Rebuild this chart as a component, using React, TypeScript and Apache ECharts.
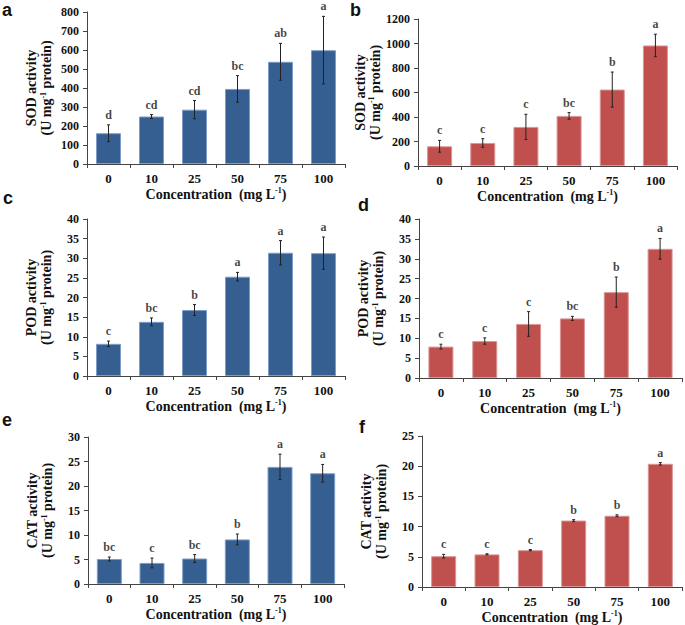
import React, { useEffect, useRef } from "react";
import * as echarts from "echarts";

const categories = ["0", "10", "25", "50", "75", "100"];

const sodA = [162, 250, 286, 395, 538, 599];
const sodAErr = [44, 10, 48, 70, 97, 178];
const sodALetters = ["d", "cd", "cd", "bc", "ab", "a"];

const sodB = [161, 188, 319, 409, 624, 984];
const sodBErr = [48, 35, 103, 27, 143, 92];
const sodBLetters = ["c", "c", "c", "bc", "b", "a"];

const podC = [8.2, 13.8, 16.8, 25.3, 31.4, 31.3];
const podCErr = [0.7, 1.0, 1.4, 1.1, 3.1, 4.1];
const podCLetters = ["c", "bc", "b", "a", "a", "a"];

const podD = [7.9, 9.3, 13.6, 15.0, 21.6, 32.5];
const podDErr = [0.6, 0.8, 3.1, 0.5, 3.8, 2.6];
const podDLetters = ["c", "c", "c", "bc", "b", "a"];

const catE = [5.1, 4.3, 5.2, 9.1, 23.9, 22.6];
const catEErr = [0.4, 1.0, 0.8, 1.1, 2.6, 1.8];
const catELetters = ["bc", "c", "bc", "b", "a", "a"];

const catF = [5.1, 5.4, 6.1, 11.0, 11.8, 20.4];
const catFErr = [0.3, 0.1, 0.1, 0.15, 0.15, 0.2];
const catFLetters = ["c", "c", "c", "b", "b", "a"];

const panelLetters = ["a", "b", "c", "d", "e", "f"];

const BLUE = "#365F91";
const BLUE_EDGE = "#7E9CC7";
const RED = "#C0504D";
const RED_EDGE = "#D99694";
const SERIF = "'Liberation Serif', 'Times New Roman', serif";
const TXT = "#111";

type Panel = {
  values: number[];
  errs: number[];
  letters: string[];
  enzyme: string;
  max: number;
  interval: number;
  color: string;
  edge: string;
  grid: { left: number; top: number; width: number; height: number };
  tag: { x: number; y: number };
};

const panels: Panel[] = [
  { values: sodA, errs: sodAErr, letters: sodALetters, enzyme: "SOD", max: 800, interval: 100, color: BLUE, edge: BLUE_EDGE,
    grid: { left: 87, top: 12, width: 258, height: 152 }, tag: { x: 2, y: 19 } },
  { values: sodB, errs: sodBErr, letters: sodBLetters, enzyme: "SOD", max: 1200, interval: 200, color: RED, edge: RED_EDGE,
    grid: { left: 418, top: 19, width: 259, height: 147 }, tag: { x: 350, y: 19 } },
  { values: podC, errs: podCErr, letters: podCLetters, enzyme: "POD", max: 40, interval: 5, color: BLUE, edge: BLUE_EDGE,
    grid: { left: 87, top: 219, width: 258, height: 157 }, tag: { x: 3, y: 207 } },
  { values: podD, errs: podDErr, letters: podDLetters, enzyme: "POD", max: 40, interval: 5, color: RED, edge: RED_EDGE,
    grid: { left: 419, top: 219, width: 263, height: 159 }, tag: { x: 358, y: 214 } },
  { values: catE, errs: catEErr, letters: catELetters, enzyme: "CAT", max: 30, interval: 5, color: BLUE, edge: BLUE_EDGE,
    grid: { left: 88, top: 437, width: 256, height: 147 }, tag: { x: 2, y: 429 } },
  { values: catF, errs: catFErr, letters: catFLetters, enzyme: "CAT", max: 25, interval: 5, color: RED, edge: RED_EDGE,
    grid: { left: 422, top: 436, width: 260, height: 151 }, tag: { x: 359, y: 436 } },
];

export default function App() {
  const ref = useRef<HTMLDivElement>(null);

  useEffect(() => {
    if (!ref.current) return;
    const chart = echarts.init(ref.current, null, { renderer: "svg" });

    const grids: any[] = [];
    const xAxes: any[] = [];
    const yAxes: any[] = [];
    const series: any[] = [];

    panels.forEach((p, k) => {
      grids.push({ ...p.grid, containLabel: false });
      xAxes.push({
        type: "category",
        gridIndex: k,
        data: categories,
        boundaryGap: true,
        axisLine: { show: true, lineStyle: { color: "#444", width: 1 } },
        axisTick: { show: true, alignWithLabel: false, length: 4, lineStyle: { color: "#444" } },
        axisLabel: { fontFamily: SERIF, fontWeight: "bold", fontSize: 13, color: TXT, margin: 8 },
        name: "{t|Concentration  (mg L}{sup|-1}{t|)}",
        nameLocation: "middle",
        nameGap: 22,
        nameTextStyle: {
          rich: {
            t: { fontFamily: SERIF, fontWeight: "bold", fontSize: 14, color: TXT, lineHeight: 16 },
            sup: { fontFamily: SERIF, fontWeight: "bold", fontSize: 8, color: TXT, verticalAlign: "top", lineHeight: 9 },
          },
        },
      });
      yAxes.push({
        type: "value",
        gridIndex: k,
        min: 0,
        max: p.max,
        interval: p.interval,
        splitLine: { show: false },
        axisLine: { show: true, lineStyle: { color: "#444", width: 1 } },
        axisTick: { show: true, length: 4, lineStyle: { color: "#444" } },
        axisLabel: {
          fontFamily: SERIF,
          fontWeight: "bold",
          fontSize: 12,
          color: TXT,
          margin: 8,
          formatter: (v: number) => String(v),
        },
        name: `{b|${p.enzyme} activity}\n{b|(U mg}{sup|-1}{b| protein)}`,
        nameLocation: "middle",
        nameRotate: 90,
        nameGap: 33,
        nameTextStyle: {
          rich: {
            b: { fontFamily: SERIF, fontWeight: "bold", fontSize: 14, color: TXT, lineHeight: 15 },
            sup: { fontFamily: SERIF, fontWeight: "bold", fontSize: 8, color: TXT, verticalAlign: "top", lineHeight: 8 },
          },
        },
      });

      series.push({
        type: "bar",
        xAxisIndex: k,
        yAxisIndex: k,
        data: p.values,
        barWidth: 25,
        itemStyle: { color: p.color, borderColor: p.edge, borderWidth: 1 },
        z: 2,
      });
      series.push({
        type: "custom",
        xAxisIndex: k,
        yAxisIndex: k,
        data: p.values.map((v, i) => [i, v, p.errs[i]]),
        encode: { x: 0, y: 1 },
        z: 3,
        renderItem: (params: any, api: any) => {
          const i = api.value(0);
          const m = api.value(1);
          const e = api.value(2);
          const top = api.coord([i, m + e]);
          const bot = api.coord([i, m - e]);
          const cap = 1.5;
          const style = { stroke: "#222", lineWidth: 1 };
          return {
            type: "group",
            children: [
              { type: "line", shape: { x1: top[0], y1: top[1], x2: bot[0], y2: bot[1] }, style },
              { type: "line", shape: { x1: top[0] - cap, y1: top[1], x2: top[0] + cap, y2: top[1] }, style },
              { type: "line", shape: { x1: bot[0] - cap, y1: bot[1], x2: bot[0] + cap, y2: bot[1] }, style },
            ],
          };
        },
      });
      series.push({
        type: "scatter",
        xAxisIndex: k,
        yAxisIndex: k,
        data: p.values.map((v, i) => [i, v + p.errs[i]]),
        symbolSize: 0,
        z: 4,
        label: {
          show: true,
          position: "top",
          distance: 4,
          formatter: (q: any) => p.letters[q.dataIndex],
          fontFamily: SERIF,
          fontWeight: "bold",
          fontSize: 12,
          color: TXT,
        },
      });
    });

    const graphics = panels.map((p, k) => ({
      type: "text",
      x: p.tag.x,
      y: p.tag.y,
      style: {
        text: panelLetters[k],
        fontFamily: "'Liberation Sans', Arial, sans-serif",
        fontWeight: "bold",
        fontSize: 18,
        fill: "#111",
        textVerticalAlign: "bottom",
        verticalAlign: "bottom",
      },
    }));

    chart.setOption({
      animation: false,
      backgroundColor: "#ffffff",
      grid: grids,
      xAxis: xAxes,
      yAxis: yAxes,
      series,
      graphic: graphics,
    });

    return () => chart.dispose();
  }, []);

  return (
    <div
      ref={ref}
      style={{ position: "absolute", left: 0, top: 0, width: 685, height: 625, background: "#fff" }}
    />
  );
}
